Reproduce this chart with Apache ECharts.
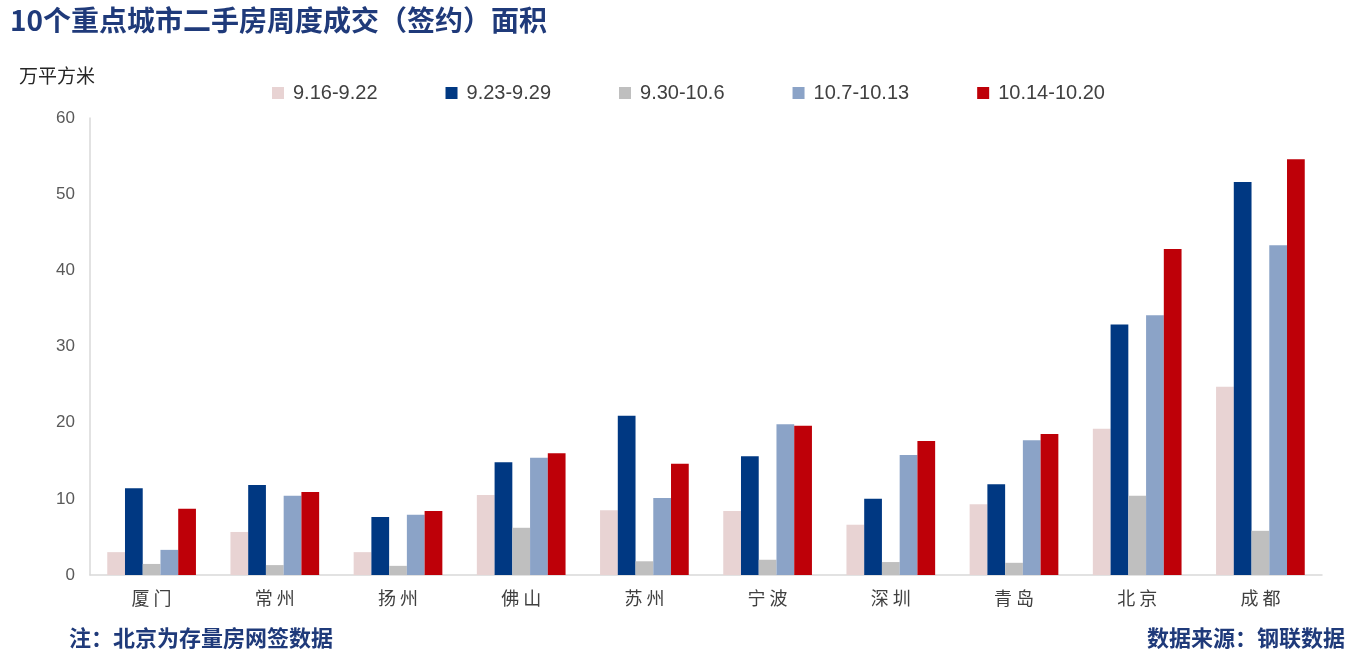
<!DOCTYPE html>
<html><head><meta charset="utf-8">
<script src="https://cdn.jsdelivr.net/npm/echarts@6/dist/echarts.min.js"></script>
<style>html,body{margin:0;padding:0;background:#fff}#c{width:1360px;height:652px}</style>
</head><body><div id="c"></div>
<script>
const categories = ['厦门','常州','扬州','佛山','苏州','宁波','深圳','青岛','北京','成都'];
const seriesNames = ['9.16-9.22','9.23-9.29','9.30-10.6','10.7-10.13','10.14-10.20'];
const s1 = [3.0, 5.65, 3.0, 10.5, 8.5, 8.4, 6.6, 9.3, 19.2, 24.7];
const s2 = [11.4, 11.8, 7.6, 14.8, 20.9, 15.6, 10.0, 11.9, 32.9, 51.6];
const s3 = [1.45, 1.3, 1.2, 6.2, 1.8, 2.0, 1.7, 1.6, 10.4, 5.8];
const s4 = [3.3, 10.4, 7.9, 15.4, 10.1, 19.8, 15.75, 17.7, 34.1, 43.3];
const s5 = [8.7, 10.9, 8.4, 16.0, 14.6, 19.6, 17.6, 18.5, 42.8, 54.6];
const yTicks = [0, 10, 20, 30, 40, 50, 60];
const colors = ['#E8D3D3', '#003882', '#BFBFBF', '#8BA3C7', '#BE0008'];
const allData = [s1, s2, s3, s4, s5];

const chart = echarts.init(document.getElementById('c'), null, {renderer: 'canvas'});
chart.setOption({
  animation: false,
  backgroundColor: '#fff',
  title: [
    {text: '10个重点城市二手房周度成交（签约）面积', left: 5, top: 1,
     textStyle: {fontFamily: 'Noto Sans CJK SC', fontWeight: 'bold', fontSize: 28, color: '#1F3A7A'}},
    {text: '万平方米', left: 14, top: 61,
     textStyle: {fontFamily: 'Noto Sans CJK SC', fontWeight: 'normal', fontSize: 19, color: '#262626'}},
    {text: '注：北京为存量房网签数据', left: 64, top: 622,
     textStyle: {fontFamily: 'Noto Sans CJK SC', fontWeight: 'bold', fontSize: 22, color: '#1F3A7A'}},
    {text: '数据来源：钢联数据', right: 10, top: 622,
     textStyle: {fontFamily: 'Noto Sans CJK SC', fontWeight: 'bold', fontSize: 22, color: '#1F3A7A'}}
  ],
  legend: {
    data: seriesNames, top: 78, left: 267, itemGap: 68, itemWidth: 12, itemHeight: 12,
    icon: 'rect',
    textStyle: {fontFamily: 'Liberation Sans', fontSize: 20, color: '#404040', padding: [0, 0, 0, 4]}
  },
  grid: {left: 90, right: 38, top: 118, bottom: 77, containLabel: false},
  xAxis: {
    type: 'category', data: categories,
    axisLine: {show: true, lineStyle: {color: '#D9D9D9', width: 1.5}},
    axisTick: {show: false},
    axisLabel: {fontFamily: 'Noto Sans CJK SC', fontSize: 18, color: '#404040', margin: 14,
      formatter: v => v.split('').join(' ')}
  },
  yAxis: {
    type: 'value', min: 0, max: 60, interval: 10,
    axisLine: {show: true, lineStyle: {color: '#D9D9D9', width: 1.5}},
    axisTick: {show: false},
    splitLine: {show: false},
    axisLabel: {fontFamily: 'Liberation Sans', fontSize: 17, color: '#595959', margin: 15,
      formatter: v => yTicks.includes(v) ? String(v) : ''}
  },
  series: seriesNames.map((n, i) => ({
    name: n, type: 'bar', data: allData[i],
    barGap: '0%', barCategoryGap: '28%',
    itemStyle: {color: colors[i]}
  }))
});
</script></body></html>
